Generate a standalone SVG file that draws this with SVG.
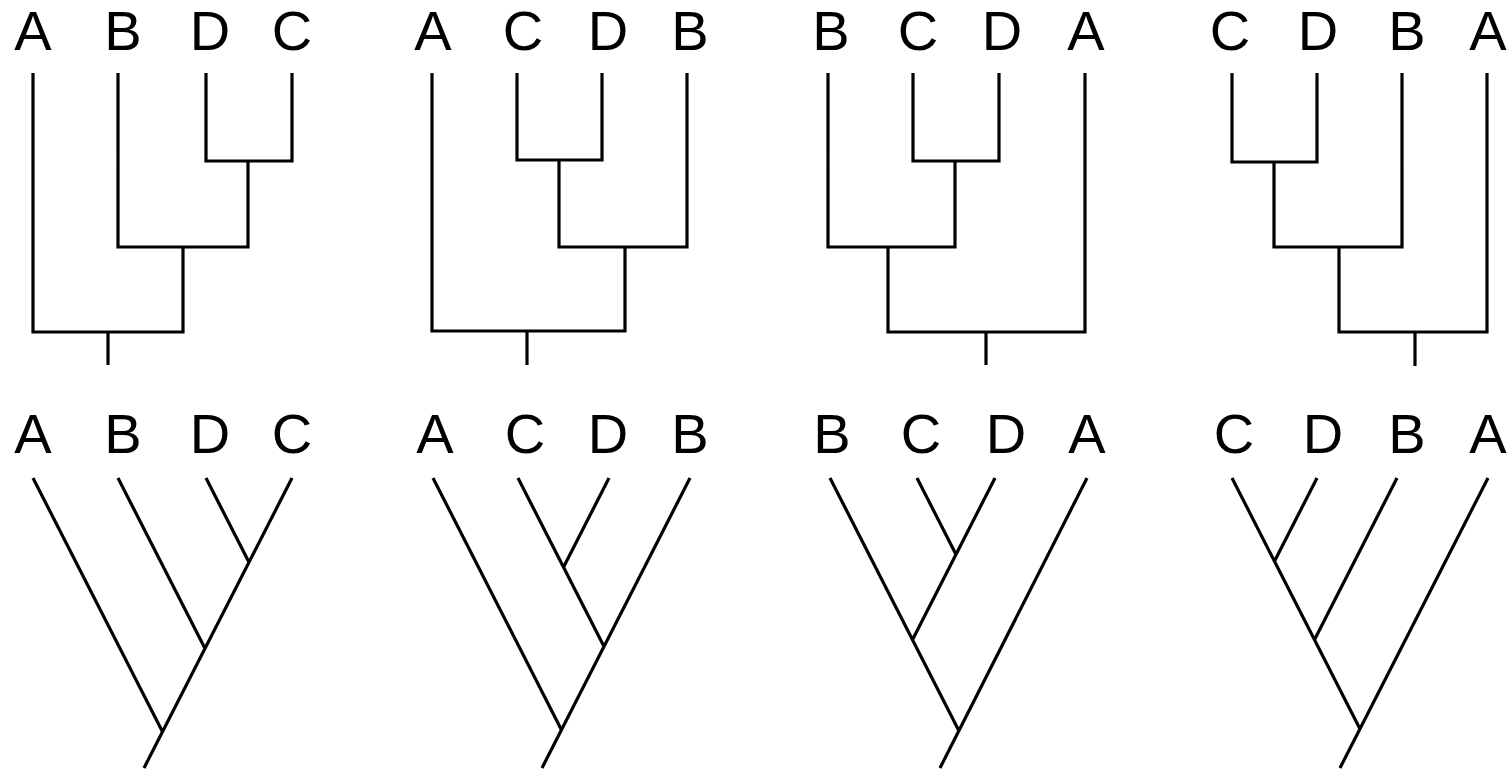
<svg xmlns="http://www.w3.org/2000/svg" width="1509" height="773" viewBox="0 0 1509 773">
<style>
.lbl{font-family:"Liberation Sans",Arial,sans-serif;font-size:56px;fill:#000;text-anchor:middle}
.ln{fill:none;stroke:#000;stroke-width:3.2;stroke-linejoin:miter;stroke-linecap:butt}
</style>
<rect width="1509" height="773" fill="#fff"/>
<g id="tree1-top">
<text class="lbl" x="33" y="50">A</text><text class="lbl" x="123" y="50">B</text><text class="lbl" x="210" y="50">D</text><text class="lbl" x="292" y="50">C</text>
</g>
<g id="tree2-top">
<text class="lbl" x="433" y="50">A</text><text class="lbl" x="523" y="50">C</text><text class="lbl" x="608" y="50">D</text><text class="lbl" x="690" y="50">B</text>
</g>
<g id="tree3-top">
<text class="lbl" x="831" y="50">B</text><text class="lbl" x="918" y="50">C</text><text class="lbl" x="1002" y="50">D</text><text class="lbl" x="1086" y="50">A</text>
</g>
<g id="tree4-top">
<text class="lbl" x="1230" y="50">C</text><text class="lbl" x="1318" y="50">D</text><text class="lbl" x="1407" y="50">B</text><text class="lbl" x="1488" y="50">A</text>
</g>
<g id="tree1-bottom">
<text class="lbl" x="33" y="453">A</text><text class="lbl" x="123" y="453">B</text><text class="lbl" x="210" y="453">D</text><text class="lbl" x="292" y="453">C</text>
</g>
<g id="tree2-bottom">
<text class="lbl" x="435" y="453">A</text><text class="lbl" x="525" y="453">C</text><text class="lbl" x="608" y="453">D</text><text class="lbl" x="690" y="453">B</text>
</g>
<g id="tree3-bottom">
<text class="lbl" x="832" y="453">B</text><text class="lbl" x="921" y="453">C</text><text class="lbl" x="1006" y="453">D</text><text class="lbl" x="1087" y="453">A</text>
</g>
<g id="tree4-bottom">
<text class="lbl" x="1234" y="453">C</text><text class="lbl" x="1323" y="453">D</text><text class="lbl" x="1407" y="453">B</text><text class="lbl" x="1488" y="453">A</text>
</g>
<g id="connectors" class="ln">
<path d="M33,73 V332 H183 V247 M118,73 V247 H248 V161 M206,73 V161 H292 V73 M108,332 V365"/>
<path d="M432,73 V331 H625 V247 M517,73 V160 H602 V73 M559,160 V247 H687 V73 M527,331 V365"/>
<path d="M828,73 V247 H955 V161 M913,73 V161 H999 V73 M888,247 V332 H1085 V73 M986,332 V365"/>
<path d="M1232,73 V162 H1317 V73 M1274,162 V247 H1402 V73 M1339,247 V332 H1487 V73 M1415,332 V366"/>
<path d="M292,478 L144,768 M33,478 L162.5,731.8 M118,478 L205,648.5 M206,478 L249,562.3"/>
<path d="M518,478 L604,646.6 M609,478 L563.5,567.2 M690,478 L542,768 M433,478 L561.5,729.9"/>
<path d="M917,478 L956,554.4 M995,478 L912.5,639.7 M830,478 L958.5,729.9 M1087,478 L940,768"/>
<path d="M1317,478 L1274.5,561.3 M1232,478 L1360,728.9 M1397,478 L1314.5,639.7 M1488,478 L1340,768"/>
</g>
</svg>
